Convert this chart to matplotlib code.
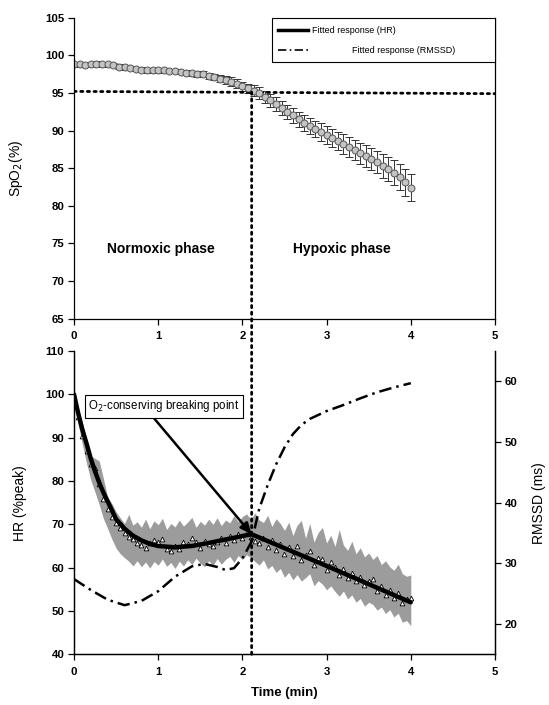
import numpy as np
import matplotlib
matplotlib.use("Agg")
import matplotlib.pyplot as plt
from matplotlib.patches import ConnectionPatch, Rectangle
from matplotlib.lines import Line2D

plt.rcParams["font.family"] = ["Liberation Sans", "DejaVu Sans"]

# ----------------------------
# Data
# ----------------------------
# SpO2, one point every 4 s
spo2_t = np.arange(61) * 4 / 60.0
spo2 = [98.8, 98.8, 98.7, 98.8, 98.9, 98.8, 98.8, 98.7, 98.5, 98.4,
        98.3, 98.2, 98.1, 98.0, 98.0, 98.0, 98.0, 97.9, 97.9, 97.8,
        97.7, 97.6, 97.5, 97.5, 97.3, 97.1, 96.9, 96.7, 96.5, 96.2,
        95.9, 95.6, 95.3, 95.0, 94.5, 94.0, 93.5, 93.0, 92.5, 92.0,
        91.5, 91.0, 90.6, 90.2, 89.8, 89.4, 89.0, 88.6, 88.2, 87.8,
        87.4, 87.0, 86.6, 86.2, 85.8, 85.3, 84.9, 84.4, 83.8, 83.1, 82.4]
spo2_err = [0.3, 0.3, 0.3, 0.3, 0.3, 0.3, 0.3, 0.3, 0.3, 0.3,
            0.3, 0.3, 0.3, 0.3, 0.3, 0.3, 0.3, 0.3, 0.3, 0.3,
            0.3, 0.35, 0.35, 0.4, 0.4, 0.45, 0.5, 0.5, 0.55, 0.6,
            0.6, 0.65, 0.7, 0.75, 0.8, 0.85, 0.9, 0.9, 0.95, 1.0,
            1.0, 1.05, 1.1, 1.1, 1.15, 1.2, 1.2, 1.25, 1.3, 1.3,
            1.35, 1.4, 1.45, 1.5, 1.5, 1.55, 1.6, 1.65, 1.7, 1.75, 1.8]
spo2_thresh = [95.2, 94.9]   # dotted threshold at x = 0 and x = 5

# HR (%peak), mean and SD band, one point every 3 s
hr_t = np.arange(81) * 0.05
hr_mean = [99.6, 94.8, 90.5, 86.9, 84.0, 83.1, 79.2, 75.8, 73.6, 71.8,
           70.4, 69.2, 68.1, 67.0, 66.6, 65.7, 65.2, 64.6, 65.8, 66.3,
           65.9, 66.5, 64.3, 63.9, 65.1, 64.2, 66.0, 65.4, 66.8, 65.9,
           64.6, 66.2, 65.4, 64.9, 66.0, 66.9, 65.8, 67.3, 66.4, 67.8,
           66.9, 68.1, 67.0, 66.2, 65.6, 66.8, 64.7, 66.3, 64.0, 65.4,
           63.1, 64.8, 62.6, 64.9, 61.8, 62.9, 63.8, 60.7, 62.3, 61.9,
           59.4, 61.2, 60.1, 58.2, 59.6, 57.5, 58.8, 56.9, 57.8, 55.9,
           56.9, 57.4, 54.6, 55.8, 53.6, 54.8, 52.9, 54.2, 51.8, 52.7, 53.0]
hr_upper = [100.5, 97.0, 93.5, 89.5, 85.8, 85.2, 84.6, 80.5, 76.2, 74.8,
            72.9, 71.5, 70.2, 72.3, 69.8, 70.6, 69.3, 71.2, 69.0, 70.8,
            69.9, 71.4, 68.8, 70.2, 69.4, 71.0, 69.6, 70.5, 71.6, 69.3,
            70.7, 69.8, 71.2, 70.0, 71.5, 69.7, 71.0, 70.3, 72.0, 70.6,
            71.8, 72.4, 71.2, 72.6, 71.0, 70.4, 72.1, 69.5, 71.3, 70.2,
            68.6, 70.5, 67.4, 69.8, 70.9, 66.8, 70.2, 65.9, 68.1, 69.3,
            65.7, 67.5, 64.9, 68.8, 65.2, 64.0, 66.1, 63.2, 64.6, 62.5,
            63.4, 61.9, 62.8, 60.7, 61.6, 60.2, 59.4, 60.8, 58.6, 58.0, 58.3]
hr_lower = [98.8, 93.0, 88.4, 84.0, 80.2, 77.4, 74.5, 71.3, 69.0, 66.6,
            64.5, 63.2, 62.3, 61.5, 60.4, 61.6, 60.2, 61.3, 59.9, 61.4,
            60.6, 62.0, 60.3, 61.2, 59.8, 61.5, 60.4, 61.8, 60.7, 62.2,
            61.0, 60.2, 61.6, 60.5, 62.1, 60.8, 61.9, 62.6, 61.2, 62.8,
            61.9, 63.0, 62.3, 61.4, 60.6, 61.8, 59.7, 60.5, 58.9, 59.8,
            57.8, 58.9, 57.2, 58.4, 56.9, 57.7, 58.6, 55.8, 57.0, 56.2,
            54.9, 55.8, 54.5, 53.4, 54.6, 52.8, 53.7, 52.0, 52.9, 51.1,
            52.0, 51.5, 50.2, 50.9, 49.4, 50.3, 48.6, 49.5, 47.4, 47.8, 46.6]

# fitted HR response
fit_t = [0, 0.05, 0.1, 0.15, 0.2, 0.25, 0.3, 0.35, 0.4, 0.5, 0.6, 0.7, 0.8,
         0.9, 1.0, 1.2, 1.4, 1.6, 1.8, 2.0, 2.11, 2.5, 3.0, 3.5, 4.0]
fit_hr = [100.0, 95.6, 91.8, 88.6, 85.1, 82.2, 79.6, 77.3, 75.3, 71.2, 69.0,
          67.4, 66.3, 65.5, 65.0, 64.7, 65.0, 65.7, 66.5, 67.3, 67.7, 64.5,
          60.4, 56.2, 52.0]

# fitted RMSSD response (ms)
rmssd_t = [0, 0.2, 0.4, 0.6, 0.8, 1.0, 1.2, 1.4, 1.55, 1.7, 1.8, 1.9, 2.0,
           2.11, 2.2, 2.3, 2.4, 2.5, 2.6, 2.7, 2.8, 3.0, 3.2, 3.4, 3.6, 3.8, 4.0]
rmssd = [27.4, 25.6, 24.0, 23.1, 23.8, 25.4, 27.8, 29.5, 29.9, 29.4, 28.9,
         29.2, 30.8, 33.6, 39.0, 42.9, 46.3, 49.1, 51.3, 52.8, 53.8, 55.1,
         56.1, 57.2, 58.2, 59.0, 59.7]

break_t = 2.11
break_hr = 67.7
break_spo2 = 95.1

# ----------------------------
# Figure
# ----------------------------
fig = plt.figure(figsize=(5.49, 7.05), dpi=100)
ax1 = fig.add_axes([0.1348, 0.5482, 0.7668, 0.4267])
ax2 = fig.add_axes([0.1348, 0.0719, 0.7668, 0.4302])
ax3 = ax2.twinx()


def style_axis(ax):
    ax.spines["top"].set_visible(False)
    for s in ["left", "bottom", "right"]:
        ax.spines[s].set_linewidth(0.9)
    ax.tick_params(direction="out", length=4, width=0.9, pad=3)
    ax.tick_params(axis="x", pad=5)
    for lab in ax.get_xticklabels() + ax.get_yticklabels():
        lab.set_fontsize(8.2)
        lab.set_fontweight("bold")


# --- top panel: SpO2 ---
ax1.errorbar(spo2_t, spo2, yerr=spo2_err, fmt="o", ms=5,
             mfc="#c4c4c4", mec="#555555", mew=0.7,
             ecolor="#333333", elinewidth=0.7, capsize=3, capthick=0.7)
ax1.plot([0, 5], spo2_thresh, ls=(0, (0.8, 1.6)), lw=2, color="black",
         dash_capstyle="round")
ax1.set_xlim(0, 5)
ax1.set_ylim(65, 105)
ax1.set_xticks(range(6))
ax1.set_yticks(range(65, 106, 5))
ax1.set_ylabel("SpO$_2$(%)", fontsize=10)
ax1.yaxis.set_label_coords(-0.116, 0.5)
ax1.text(1.03, 74.2, "Normoxic phase", ha="center", va="center",
         fontsize=10, fontweight="bold")
ax1.text(3.18, 74.2, "Hypoxic phase", ha="center", va="center",
         fontsize=10, fontweight="bold")
style_axis(ax1)

# legend drawn by hand (text of 2nd entry is offset like the original)
ax1.add_patch(Rectangle((0.47, 0.852), 0.53, 0.148, transform=ax1.transAxes,
                        fill=True, facecolor="white", edgecolor="black",
                        lw=0.8, clip_on=False, zorder=5))
ax1.add_line(Line2D([0.485, 0.556], [0.958, 0.958], transform=ax1.transAxes,
                    color="black", lw=2.5, zorder=6))
ax1.add_line(Line2D([0.485, 0.556], [0.892, 0.892], transform=ax1.transAxes,
                    color="black", lw=1.2, ls=(0, (5, 2, 1, 2)), zorder=6))
ax1.text(0.565, 0.958, "Fitted response (HR)", transform=ax1.transAxes,
         fontsize=6.5, va="center", zorder=6)
ax1.text(0.660, 0.892, "Fitted response (RMSSD)", transform=ax1.transAxes,
         fontsize=6.5, va="center", zorder=6)

# --- bottom panel: HR and RMSSD ---
ax2.fill_between(hr_t, hr_lower, hr_upper, color="#9c9c9c", lw=0)
ax2.plot(hr_t, hr_mean, "^", ms=3.4, mfc="white", mec="black", mew=0.6)
ax2.plot(fit_t, fit_hr, color="black", lw=3.2, solid_capstyle="round")
ax2.set_xlim(0, 5)
ax2.set_ylim(40, 110)
ax2.set_xticks(range(6))
ax2.set_yticks(range(40, 111, 10))
ax2.set_ylabel("HR (%peak)", fontsize=10)
ax2.yaxis.set_label_coords(-0.112, 0.5)
ax2.set_xlabel("Time (min)", fontsize=9.5, fontweight="bold")
ax2.xaxis.set_label_coords(0.5, -0.108)
style_axis(ax2)

ax3.plot(rmssd_t, rmssd, color="black", lw=1.8, ls=(0, (5, 2, 1, 2)))
ax3.set_ylim(15, 65)
ax3.set_yticks(range(20, 61, 10))
ax3.set_ylabel("RMSSD (ms)", fontsize=10)
ax3.yaxis.set_label_coords(1.088, 0.5)
style_axis(ax3)

ax3.annotate("O$_2$-conserving breaking point", xy=(break_t, break_hr),
             xycoords=ax2.transData, xytext=(1.07, 97.3),
             textcoords=ax2.transData, ha="center", va="center", fontsize=8.3,
             bbox=dict(boxstyle="square,pad=0.3", fc="white", ec="black", lw=0.8),
             arrowprops=dict(arrowstyle="-|>,head_length=0.8,head_width=0.35",
                             color="black", lw=1.8, relpos=(0.41, 0.0),
                             shrinkA=0, shrinkB=0))

# vertical dotted line from the SpO2 threshold down to the HR x-axis
con = ConnectionPatch(xyA=(break_t, break_spo2), coordsA=ax1.transData,
                      xyB=(break_t, 40), coordsB=ax2.transData,
                      ls=(0, (0.8, 1.6)), lw=2, color="black",
                      capstyle="round")
fig.add_artist(con)

fig.savefig("out.png", dpi=100)
